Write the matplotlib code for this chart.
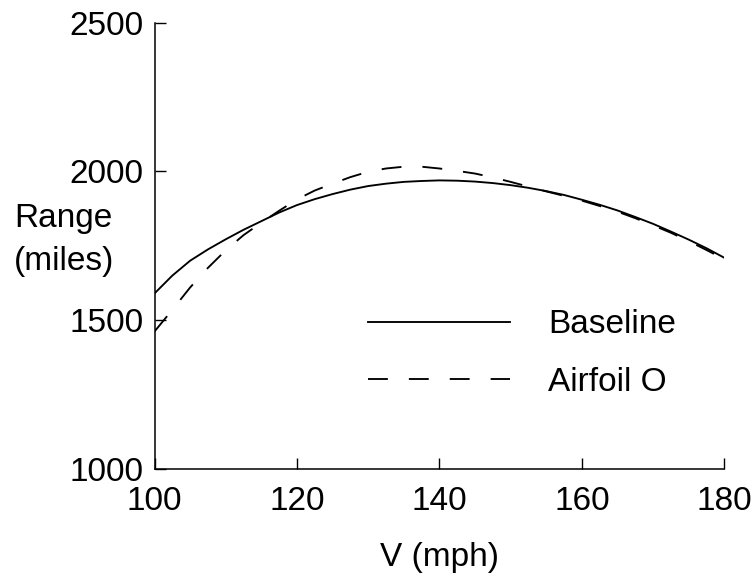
import matplotlib
matplotlib.use("Agg")
import matplotlib.pyplot as plt

plt.rcParams["font.family"] = ["Liberation Sans", "DejaVu Sans"]

# Cruise speed (mph)
speed = [100, 102.5, 105, 107.5, 110, 112.5, 115, 117.5, 120, 122.5, 125,
         127.5, 130, 132.5, 135, 137.5, 140, 142.5, 145, 147.5, 150, 152.5,
         155, 157.5, 160, 162.5, 165, 167.5, 170, 172.5, 175, 177.5, 180]

# Range (miles) for each configuration
range_baseline = [1590, 1650, 1700, 1738, 1772, 1804, 1833, 1862, 1887, 1907,
                  1924, 1939, 1951, 1959, 1965, 1968, 1970, 1969, 1966, 1961,
                  1954, 1945, 1934, 1921, 1905, 1888, 1869, 1847, 1824, 1798,
                  1771, 1742, 1710]
range_airfoil_o = [1462, 1535, 1610, 1676, 1735, 1786, 1828, 1868, 1906, 1936,
                   1959, 1981, 1999, 2010, 2016, 2016, 2010, 2002, 1993, 1980,
                   1965, 1949, 1933, 1918, 1902, 1884, 1865, 1843, 1819, 1794,
                   1766, 1736, 1705]

x_ticks = [100, 120, 140, 160, 180]
y_ticks = [1000, 1500, 2000, 2500]

fig = plt.figure(figsize=(7.56, 5.82), dpi=100)
ax = fig.add_axes([154.5 / 756, 1 - 469 / 582, (724.3 - 154.5) / 756, (469 - 22.7) / 582])

ax.plot(speed, range_baseline, color="black", lw=1.35, label="Baseline")
ax.plot(speed, range_airfoil_o, color="black", lw=1.35,
        linestyle=(0, (10.6, 11.2)), label="Airfoil O")

ax.set_xlim(100, 180)
ax.set_ylim(1000, 2500)
ax.set_xticks(x_ticks)
ax.set_yticks(y_ticks)

for side in ("top", "right"):
    ax.spines[side].set_visible(False)
for side in ("left", "bottom"):
    ax.spines[side].set_linewidth(1.1)

ax.tick_params(direction="in", length=8, width=1.0, labelsize=24)
ax.tick_params(axis="x", pad=12)
ax.tick_params(axis="y", pad=8)

ax.set_xlabel("V (mph)", fontsize=24, labelpad=18)
ax.set_ylabel("Range\n(miles)", fontsize=24, rotation=0, linespacing=1.48,
              ha="left", va="center", multialignment="left")
ax.yaxis.set_label_coords(-0.2466, 0.513)

ax.legend(loc="center left", bbox_to_anchor=(368 / 756, 1 - 353.5 / 582),
          bbox_transform=fig.transFigure, frameon=False, fontsize=24,
          handlelength=4.26, handletextpad=1.14, borderpad=0,
          borderaxespad=0, labelspacing=0.79)

fig.savefig("out.png", dpi=100)
